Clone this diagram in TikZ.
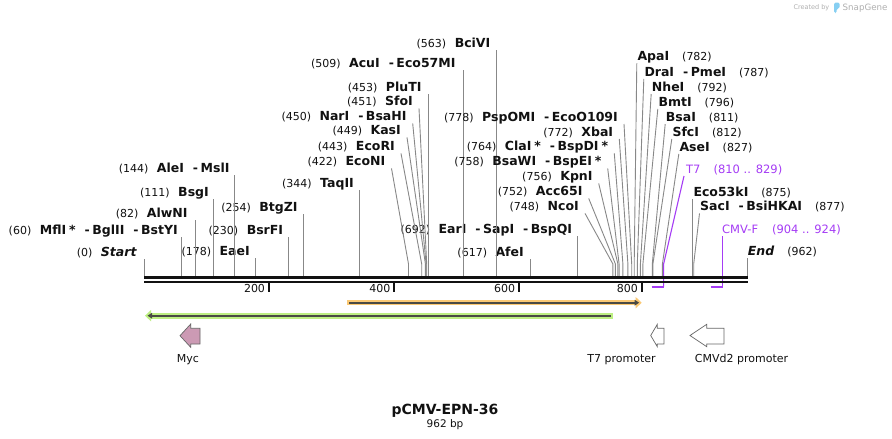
\documentclass[tikz,border=0pt]{standalone}
\usepackage{fontspec}
\setmainfont{DejaVu Sans}
\usepackage{tikz}
\usetikzlibrary{calc,arrows.meta}
\definecolor{ink}{HTML}{111111}
\definecolor{sitegray}{HTML}{888888}
\definecolor{primer}{HTML}{A53CF5}
\definecolor{orangefill}{HTML}{FBC974}
\definecolor{greenfill}{HTML}{BDEF82}
\definecolor{barline}{HTML}{4A4A44}
\definecolor{mycfill}{HTML}{CC9AB4}
\definecolor{arrowedge}{HTML}{666666}
\definecolor{logogray}{HTML}{B0B0B0}
\definecolor{logoblue}{HTML}{86CFF2}
\newcommand{\enz}[1]{{\fontsize{12.5}{14}\selectfont\bfseries #1}}
\newcommand{\cutsep}{\hspace{9pt}-\hspace{2.5pt}}
\newcommand{\dcm}{\hspace{3pt}*}
\newcommand{\numgap}{\hspace{8.5pt}}
\newcommand{\rnumgap}{\hspace{13pt}}
\tikzset{
  lab/.style={font=\fontsize{11}{13}\selectfont, text=ink, inner sep=0pt, text height=9pt, text depth=2.5pt},
  leftlab/.style={lab, anchor=base east},
  rightlab/.style={lab, anchor=base west},
  primlab/.style={lab, anchor=base west, text=primer, font=\fontsize{11.5}{13}\selectfont},
  featlab/.style={lab, anchor=base},
  siteline/.style={draw=sitegray, line width=0.9pt},
  primleader/.style={draw=primer, line width=1.1pt},
  primbar/.style={draw=primer, line width=2pt},
  scaletick/.style={draw=ink, line width=2pt},
  orangebar/.style={draw=orangefill, line width=5.5pt, -{Triangle[length=6pt,width=11pt]}},
  greenbar/.style={draw=greenfill, line width=6pt, {Triangle[length=6pt,width=11pt]}-},
  barcore/.style={draw=barline, line width=1.6pt},
  featarrow/.style={draw=arrowedge, line width=0.7pt, line join=miter},
}

\begin{document}
\begin{tikzpicture}[x=1pt,y=-1pt]
\useasboundingbox (0,0) rectangle (892,439);
\fill[white] (0,0) rectangle (892,439);

% logo
\node[lab, anchor=base east, text=logogray, font=\fontsize{6.5}{8}\selectfont] (created) at (829.5,9.5) {Created by};
\fill[logoblue, rounded corners=1.5pt] (834,2.5) -- (839.5,2.5) -- (839.5,8.5) -- (836.5,8.5) -- (836.5,13) -- (834,13) -- cycle;
\node[lab, anchor=base west, text=logogray, font=\fontsize{8.7}{10}\selectfont] (snapgene) at (842.5,10.5) {SnapGene};

% left cluster
\coordinate (sStart) at (144,276);
\coordinate (sMflI) at (181.6,276);
\coordinate (sAlwNI) at (195.4,276);
\coordinate (sBsgI) at (213.6,276);
\coordinate (sAleI) at (234.3,276);
\coordinate (sEaeI) at (255.6,276);
\coordinate (sBsrFI) at (288.2,276);
\coordinate (sBtgZI) at (303.2,276);
\coordinate (sTaqII) at (359.6,276);
\node[leftlab] (lStart) at (136.7,256) {(0)\numgap\enz{\itshape Start}};
\node[leftlab] (lMflI) at (178,234) {(60)\numgap\enz{MflI\dcm\cutsep BglII\cutsep BstYI}};
\node[leftlab] (lAlwNI) at (187.7,217.3) {(82)\numgap\enz{AlwNI}};
\node[leftlab] (lBsgI) at (209,196.3) {(111)\numgap\enz{BsgI}};
\node[leftlab] (lAleI) at (229.7,172.3) {(144)\numgap\enz{AleI\cutsep MslI}};
\node[leftlab] (lEaeI) at (250,255.7) {(178)\numgap\enz{EaeI}};
\node[leftlab] (lBsrFI) at (283.3,234) {(230)\numgap\enz{BsrFI}};
\node[leftlab] (lBtgZI) at (297.7,211.3) {(254)\numgap\enz{BtgZI}};
\node[leftlab] (lTaqII) at (354,187.3) {(344)\numgap\enz{TaqII}};
\draw[siteline] (sStart) -- (sStart |- lStart.south);
\draw[siteline] (sMflI) -- (sMflI |- lMflI.south);
\draw[siteline] (sAlwNI) -- (sAlwNI |- lAlwNI.south);
\draw[siteline] (sBsgI) -- (sBsgI |- lBsgI.south);
\draw[siteline] (sAleI) -- (sAleI |- lAleI.south);
\draw[siteline] (sEaeI) -- (sEaeI |- lEaeI.south);
\draw[siteline] (sBsrFI) -- (sBsrFI |- lBsrFI.south);
\draw[siteline] (sBtgZI) -- (sBtgZI |- lBtgZI.south);
\draw[siteline] (sTaqII) -- (sTaqII |- lTaqII.south);

% middle cluster
\coordinate (sEcoNI) at (408.5,276);
\coordinate (sEcoRI) at (421.7,276);
\coordinate (sKasI) at (425.4,276);
\coordinate (sNarI) at (426.1,276);
\coordinate (sSfoI) at (426.7,276);
\coordinate (sPluTI) at (428,276);
\coordinate (sAcuI) at (463,276);
\coordinate (sBciVI) at (496.9,276);
\coordinate (sAfeI) at (530.7,276);
\coordinate (sEarI) at (577.7,276);
\node[leftlab] (lEcoNI) at (385.5,165.7) {(422)\numgap\enz{EcoNI}};
\node[leftlab] (lEcoRI) at (395,150.7) {(443)\numgap\enz{EcoRI}};
\node[leftlab] (lKasI) at (401,134.7) {(449)\numgap\enz{KasI}};
\node[leftlab] (lNarI) at (406.7,120.7) {(450)\numgap\enz{NarI\cutsep BsaHI}};
\node[leftlab] (lSfoI) at (413,105.7) {(451)\numgap\enz{SfoI}};
\node[leftlab] (lPluTI) at (421.7,91.3) {(453)\numgap\enz{PluTI}};
\node[leftlab] (lAcuI) at (455.7,67.3) {(509)\numgap\enz{AcuI\cutsep Eco57MI}};
\node[leftlab] (lBciVI) at (490.5,47.3) {(563)\numgap\enz{BciVI}};
\node[leftlab] (lAfeI) at (524,256.3) {(617)\numgap\enz{AfeI}};
\node[leftlab] (lEarI) at (572.3,233) {(692)\numgap\enz{EarI\cutsep SapI\cutsep BspQI}};
\draw[siteline] (sEcoNI) -- ++(0,-12) -- ($(lEcoNI.south east)+(6,0)$);
\draw[siteline] (sEcoRI) -- ++(0,-12) -- ($(lEcoRI.south east)+(6,0)$);
\draw[siteline] (sKasI) -- ++(0,-12) -- ($(lKasI.south east)+(6,0)$);
\draw[siteline] (sNarI) -- ++(0,-12) -- ($(lNarI.south east)+(6,0)$);
\draw[siteline] (sSfoI) -- ++(0,-12) -- ($(lSfoI.south east)+(6,0)$);
\draw[siteline] (sPluTI) -- (sPluTI |- lPluTI.south);
\draw[siteline] (sAcuI) -- (sAcuI |- lAcuI.south);
\draw[siteline] (sBciVI) -- (sBciVI |- lBciVI.south);
\draw[siteline] (sAfeI) -- (sAfeI |- lAfeI.south);
\draw[siteline] (sEarI) -- (sEarI |- lEarI.south);

% right cluster, labels on the left
\coordinate (sNcoI) at (612.9,276);
\coordinate (sAcc65I) at (615.4,276);
\coordinate (sKpnI) at (617.9,276);
\coordinate (sBsaWI) at (619.1,276);
\coordinate (sClaI) at (622.9,276);
\coordinate (sXbaI) at (627.9,276);
\coordinate (sPspOMI) at (631.7,276);
\node[leftlab] (lNcoI) at (579,210.7) {(748)\numgap\enz{NcoI}};
\node[leftlab] (lAcc65I) at (582.7,195.7) {(752)\numgap\enz{Acc65I}};
\node[leftlab] (lKpnI) at (592.7,180.7) {(756)\numgap\enz{KpnI}};
\node[leftlab] (lBsaWI) at (601.7,165.7) {(758)\numgap\enz{BsaWI\cutsep BspEI\dcm}};
\node[leftlab] (lClaI) at (608.3,150.7) {(764)\numgap\enz{ClaI\dcm\cutsep BspDI\dcm}};
\node[leftlab] (lXbaI) at (613.3,136.3) {(772)\numgap\enz{XbaI}};
\node[leftlab] (lPspOMI) at (618,121.3) {(778)\numgap\enz{PspOMI\cutsep EcoO109I}};
\draw[siteline] (sNcoI) -- ++(0,-12) -- ($(lNcoI.south east)+(6,0)$);
\draw[siteline] (sAcc65I) -- ++(0,-12) -- ($(lAcc65I.south east)+(6,0)$);
\draw[siteline] (sKpnI) -- ++(0,-12) -- ($(lKpnI.south east)+(6,0)$);
\draw[siteline] (sBsaWI) -- ++(0,-12) -- ($(lBsaWI.south east)+(6,0)$);
\draw[siteline] (sClaI) -- ++(0,-12) -- ($(lClaI.south east)+(6,0)$);
\draw[siteline] (sXbaI) -- ++(0,-12) -- ($(lXbaI.south east)+(6,0)$);
\draw[siteline] (sPspOMI) -- ++(0,-12) -- ($(lPspOMI.south east)+(6,0)$);

% right cluster, labels on the right
\coordinate (sApaI) at (634.2,276);
\coordinate (sDraI) at (637.3,276);
\coordinate (sNheI) at (640.4,276);
\coordinate (sBmtI) at (642.9,276);
\coordinate (sBsaI) at (652.3,276);
\coordinate (sSfcI) at (652.9,276);
\coordinate (sAseI) at (662.4,276);
\coordinate (sEco53kI) at (692.5,276);
\coordinate (sSacI) at (693.7,276);
\coordinate (sEnd) at (747,276);
\node[rightlab] (lApaI) at (637.3,60.7) {\enz{ApaI}\rnumgap(782)};
\node[rightlab] (lDraI) at (644.3,76.3) {\enz{DraI\cutsep PmeI}\rnumgap(787)};
\node[rightlab] (lNheI) at (651.7,91.3) {\enz{NheI}\rnumgap(792)};
\node[rightlab] (lBmtI) at (658.3,106.3) {\enz{BmtI}\rnumgap(796)};
\node[rightlab] (lBsaI) at (665.7,121.3) {\enz{BsaI}\rnumgap(811)};
\node[rightlab] (lSfcI) at (672.3,136.3) {\enz{SfcI}\rnumgap(812)};
\node[rightlab] (lAseI) at (679.3,151.3) {\enz{AseI}\rnumgap(827)};
\node[rightlab] (lEco53kI) at (693.3,196.3) {\enz{Eco53kI}\rnumgap(875)};
\node[rightlab] (lSacI) at (700,210.7) {\enz{SacI\cutsep BsiHKAI}\rnumgap(877)};
\node[rightlab] (lEnd) at (747.7,255.7) {\enz{\itshape End}\rnumgap(962)};
\draw[siteline] (sApaI) -- ++(0,-12) -- ($(lApaI.south west)+(-0.5,0)$);
\draw[siteline] (sDraI) -- ++(0,-12) -- ($(lDraI.south west)+(-0.5,0)$);
\draw[siteline] (sNheI) -- ++(0,-12) -- ($(lNheI.south west)+(-0.5,0)$);
\draw[siteline] (sBmtI) -- ++(0,-12) -- ($(lBmtI.south west)+(-0.5,0)$);
\draw[siteline] (sBsaI) -- ++(0,-12) -- ($(lBsaI.south west)+(-0.5,0)$);
\draw[siteline] (sSfcI) -- ++(0,-12) -- ($(lSfcI.south west)+(-0.5,0)$);
\draw[siteline] (sAseI) -- ++(0,-12) -- ($(lAseI.south west)+(-0.5,0)$);
\draw[siteline] (sEco53kI) -- (sEco53kI |- lEco53kI.south);
\draw[siteline] (sSacI) -- ++(0,-12) -- ($(lSacI.south west)+(-0.5,0)$);
\draw[siteline] (sEnd) -- (sEnd |- lEnd.south);

% primers
\coordinate (pT7a) at (651.7,286.7);
\coordinate (pT7b) at (663.6,286.7);
\coordinate (pCMVa) at (710.6,286.7);
\coordinate (pCMVb) at (722.8,286.7);
\node[primlab] (lT7) at (686,173.3) {T7\hspace{13pt}(810 .. 829)};
\node[primlab] (lCMVF) at (722,233.3) {CMV-F\hspace{14pt}(904 .. 924)};
\draw[primleader] (pT7b) -- ++(0,-22.7) -- ($(lT7.south west)+(-2,0)$);
\draw[primbar] (pT7a) -- (pT7b);
\draw[primleader] (pCMVb) -- (pCMVb |- lCMVF.south);
\draw[primbar] (pCMVa) -- (pCMVb);

% backbone
\coordinate (bbStart) at (144,277.6);
\coordinate (bbEnd) at (747.5,277.6);
\draw[ink, line width=3.3pt] (bbStart) -- (bbEnd);
\draw[ink, line width=2pt] ($(bbStart)+(0,4.1)$) -- ($(bbEnd)+(0,4.1)$);

% scale
\coordinate (k200) at (268.7,282.7);
\coordinate (k400) at (394,282.7);
\coordinate (k600) at (518.7,282.7);
\coordinate (k800) at (641.5,282.7);
\draw[scaletick] (k200) -- ++(0,9.5);
\draw[scaletick] (k400) -- ++(0,9.5);
\draw[scaletick] (k600) -- ++(0,9.5);
\draw[scaletick] (k800) -- ++(0,9.5);
\node[lab, anchor=base east] (n200) at ($(k200)+(-3.5,9.8)$) {200};
\node[lab, anchor=base east] (n400) at ($(k400)+(-3.5,9.8)$) {400};
\node[lab, anchor=base east] (n600) at ($(k600)+(-3.5,9.8)$) {600};
\node[lab, anchor=base east] (n800) at ($(k800)+(-3.5,9.8)$) {800};

% features
\coordinate (orgA) at (347.3,302.7);
\coordinate (orgB) at (641.7,302.7);
\draw[orangebar] (orgA) -- (orgB);
\draw[barcore, -{Triangle[length=4.5pt,width=5.5pt]}] ($(orgA)+(2,0)$) -- ($(orgB)+(-2.5,0)$);
\coordinate (grnA) at (145,315.7);
\coordinate (grnB) at (612.7,315.7);
\draw[greenbar] (grnA) -- (grnB);
\draw[barcore, {Triangle[length=4.5pt,width=5.5pt]}-] ($(grnA)+(2.5,0)$) -- ($(grnB)+(-2,0)$);

\draw[featarrow, fill=mycfill] (180,335.7) -- (190.7,324) -- (190.7,328.3) -- (200,328.3) -- (200,344) -- (190.7,344) -- (190.7,347.3) -- cycle;
\draw[featarrow, fill=white] (650.7,335.5) -- (657.3,324.3) -- (657.3,328.3) -- (664,328.3) -- (664,344) -- (657.3,344) -- (657.3,346.7) -- cycle;
\draw[featarrow, fill=white] (690,335.5) -- (706.7,324.3) -- (706.7,328.3) -- (724,328.3) -- (724,344) -- (706.7,344) -- (706.7,346.7) -- cycle;
\node[featlab] (myc) at (188,362) {Myc};
\node[featlab] (t7prom) at (621.5,362) {T7 promoter};
\node[featlab] (cmvprom) at (741.5,362) {CMVd2 promoter};

% title
\node[font=\fontsize{14}{16}\selectfont\bfseries, text=ink, anchor=base, inner sep=0pt] (title) at (445,414) {pCMV-EPN-36};
\node[font=\fontsize{10.5}{12}\selectfont, text=ink, anchor=base, inner sep=0pt] (size) at (445,427) {962 bp};
\end{tikzpicture}
\end{document}
